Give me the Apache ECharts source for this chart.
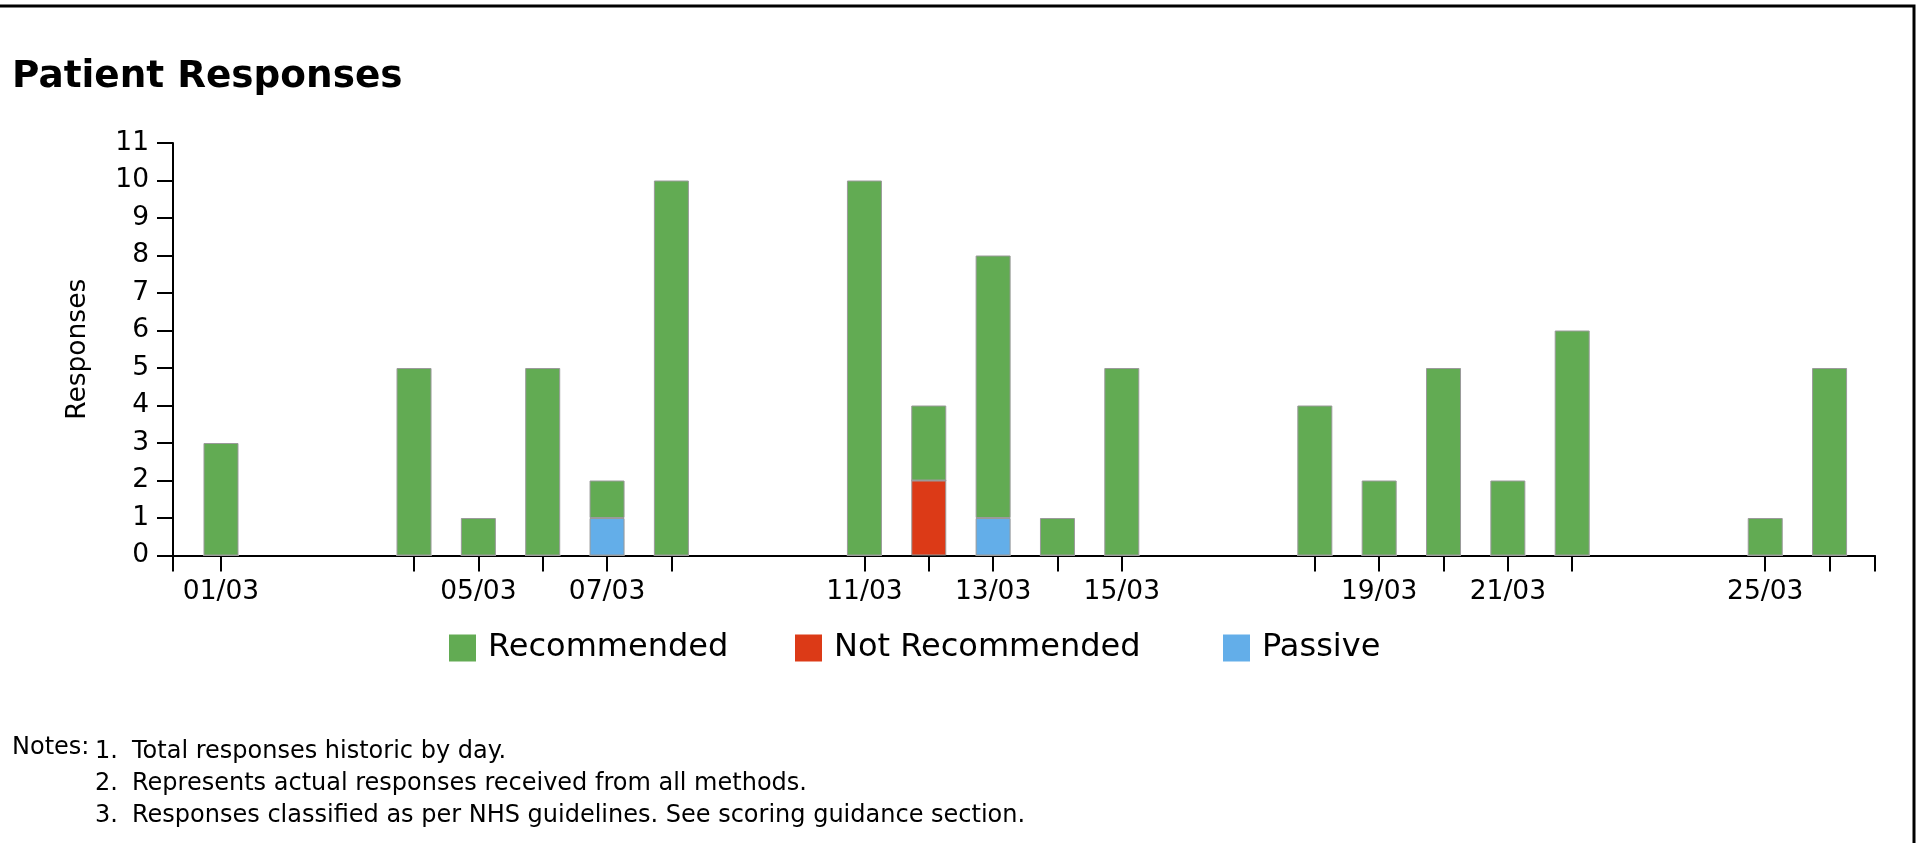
<!DOCTYPE html>
<html>
<head>
<meta charset="utf-8">
<title>Patient Responses</title>
<script src="https://cdn.jsdelivr.net/npm/echarts@6/dist/echarts.min.js"></script>
<style>
  html, body { margin: 0; padding: 0; background: #fff; }
  #chart { width: 1917px; height: 843px; }
</style>
</head>
<body>
<div id="chart"></div>
<script>
// Day of March for each response day
const days = [1, 4, 5, 6, 7, 8, 11, 12, 13, 14, 15, 18, 19, 20, 21, 22, 25, 26];
// Responses per day, by classification
const recommended    = [3, 5, 1, 5, 1, 10, 10, 2, 7, 1, 5, 4, 2, 5, 2, 6, 1, 5];
const notRecommended = [0, 0, 0, 0, 0, 0, 0, 2, 0, 0, 0, 0, 0, 0, 0, 0, 0, 0];
const passive        = [0, 0, 0, 0, 1, 0, 0, 0, 1, 0, 0, 0, 0, 0, 0, 0, 0, 0];
// Days that carry a date label (every other tick)
const labelDays = [1, 5, 7, 11, 13, 15, 19, 21, 25];
const yRange = [0, 11];
const notes = [
  'Total responses historic by day.',
  'Represents actual responses received from all methods.',
  'Responses classified as per NHS guidelines. See scoring guidance section.'
];

const FONT = 'DejaVu Sans';
// Day axis runs a little past the first and last day
const X_MIN = 0.254, X_MAX = 26.706;

const colors = {
  'Recommended': '#62ab53',
  'Not Recommended': '#dc3a17',
  'Passive': '#63aee9'
};

// Rows are [count, day]; the count column comes first so that it is the stacked one
function rows(vals) {
  return days.map((d, i) => [vals[i], d]);
}
function barSeries(name, vals) {
  return {
    name: name,
    type: 'bar',
    stack: 'total',
    barWidth: 35,
    data: rows(vals),
    encode: { x: 1, y: 0 },
    itemStyle: { color: colors[name], borderColor: '#9a9a9a', borderWidth: 1 },
    emphasis: { disabled: true }
  };
}
function legendAt(name, left) {
  return {
    data: [name],
    left: left,
    top: 632,
    padding: 0,
    icon: 'rect',
    itemWidth: 27,
    itemHeight: 27,
    itemStyle: { borderWidth: 0 },
    selectedMode: false,
    textStyle: { fontFamily: FONT, fontSize: 32, color: '#000', padding: [0, 0, 0, 7] }
  };
}

const chart = echarts.init(document.getElementById('chart'), null, { renderer: 'canvas' });

const graphics = [
  { type: 'rect', shape: { x: -10, y: 6, width: 1924, height: 900 },
    style: { fill: 'none', stroke: '#000', lineWidth: 3 }, silent: true },
  { type: 'text', left: 12, top: 58.5,
    style: { text: 'Patient Responses', font: 'bold 37.4px "' + FONT + '"', fill: '#000' } },
  { type: 'text', x: 12, y: 748,
    style: { text: 'Notes:', font: '24px "' + FONT + '"', fill: '#000', verticalAlign: 'middle' } }
];
notes.forEach((t, i) => {
  const y = 752 + i * 31.7;
  graphics.push({ type: 'text', x: 95, y: y,
    style: { text: (i + 1) + '.', font: '24px "' + FONT + '"', fill: '#000', verticalAlign: 'middle' } });
  graphics.push({ type: 'text', x: 132, y: y,
    style: { text: t, font: '24px "' + FONT + '"', fill: '#000', verticalAlign: 'middle' } });
});

chart.setOption({
  animation: false,
  textStyle: { fontFamily: FONT },
  grid: { left: 173, right: 42, top: 143, bottom: 287.5, outerBoundsMode: 'none' },
  legend: [
    legendAt('Recommended', 449),
    legendAt('Not Recommended', 795),
    legendAt('Passive', 1223)
  ],
  xAxis: {
    type: 'value',
    min: X_MIN,
    max: X_MAX,
    splitLine: { show: false },
    axisLine: { show: true, onZero: false, lineStyle: { color: '#000', width: 2 } },
    axisTick: {
      show: true, length: 16, lineStyle: { color: '#000', width: 2 },
      customValues: [X_MIN].concat(days, [X_MAX])
    },
    axisLabel: {
      customValues: labelDays,
      margin: 23,
      fontSize: 26.5,
      color: '#000',
      fontFamily: FONT,
      formatter: v => String(v).padStart(2, '0') + '/03'
    }
  },
  yAxis: {
    type: 'value',
    min: yRange[0],
    max: yRange[1],
    interval: 1,
    name: 'Responses',
    nameLocation: 'middle',
    nameRotate: 90,
    nameGap: 81.5,
    nameTextStyle: { fontSize: 26.5, color: '#000', fontFamily: FONT },
    splitLine: { show: false },
    axisLine: { show: true, lineStyle: { color: '#000', width: 2 } },
    axisTick: { show: true, length: 16, lineStyle: { color: '#000', width: 2 } },
    axisLabel: { margin: 24, fontSize: 26.5, color: '#000', fontFamily: FONT }
  },
  graphic: graphics,
  series: [
    barSeries('Not Recommended', notRecommended),
    barSeries('Passive', passive),
    barSeries('Recommended', recommended)
  ]
});
</script>
</body>
</html>
